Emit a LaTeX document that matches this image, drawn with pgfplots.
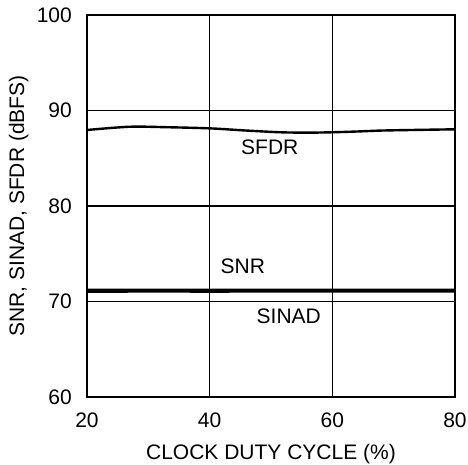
\documentclass[border=0pt]{standalone}
\usepackage{fontspec}
\setmainfont{Liberation Sans}
\usepackage{pgfplots}
\pgfplotsset{compat=1.18}
\begin{document}
\fontsize{21}{25}\selectfont
\begin{tikzpicture}
\begin{axis}[
    scale only axis,
    width=368pt, height=382pt,
    xmin=20, xmax=80, ymin=60, ymax=100,
    xtick={20,40,60,80},
    ytick={60,70,80,90,100},
    grid=major,
    major grid style={black, line width=1.1pt},
    axis line style={line width=2pt},
    major tick length=0pt,
    /pgf/number format/assume math mode=true,
    tick label style={font=\fontsize{21}{25}\selectfont},
    xticklabel style={yshift=-9pt},
    yticklabel style={xshift=-8pt},
    xlabel={CLOCK DUTY CYCLE (\%)},
    ylabel={SNR, SINAD, SFDR (dBFS)},
    xlabel style={font=\fontsize{21}{25}\selectfont, yshift=-2pt},
    ylabel style={font=\fontsize{21}{25}\selectfont, yshift=-6pt},
]
% SFDR
\addplot[black, line width=2.4pt, smooth] coordinates {
(20,87.96) (27,88.3) (33,88.25) (40,88.13) (46,87.9) (51.5,87.72)
(56,87.68) (60,87.72) (64,87.8) (68,87.9) (74,87.97) (80,88.03)};
% SNR
\addplot[black, line width=3pt] coordinates {
(20,71.18) (30,71.2) (40,71.18) (50,71.2) (60,71.18) (70,71.2) (80,71.18)};
% SINAD
\addplot[black, line width=3pt] coordinates {
(20,71.06) (30,71.08) (40,71.07) (50,71.08) (60,71.08) (70,71.08) (80,71.08)};
\node at (axis cs:49.8,86.15) {SFDR};
\node at (axis cs:45.4,73.7) {SNR};
\node at (axis cs:52.9,68.5) {SINAD};
\coordinate (O) at (rel axis cs:0,0);
\end{axis}
\pgfresetboundingbox
\path[use as bounding box] ([shift={(-87pt,-68pt)}]O) rectangle ++(468pt,465pt);
\end{tikzpicture}
\end{document}
